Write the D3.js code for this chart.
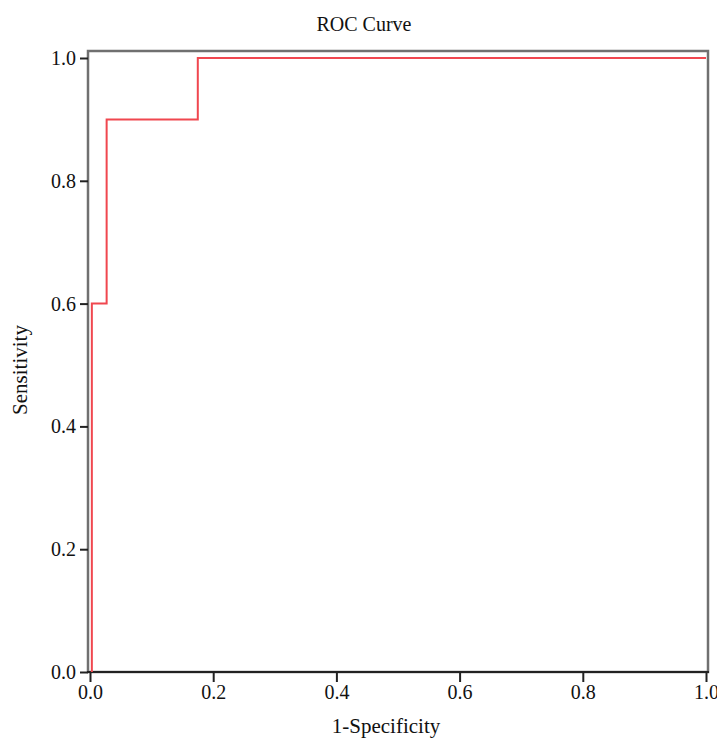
<!DOCTYPE html>
<html>
<head>
<meta charset="utf-8">
<title>ROC Curve</title>
<script src="https://cdn.jsdelivr.net/npm/d3@7"></script>
<style>
  body { margin: 0; background: #fff; }
  svg text { font-family: "Liberation Serif", "Times New Roman", serif; fill: #111; }
  .tick text { font-size: 20px; }
  .tick line { stroke: #222; stroke-width: 2; }
  .domain { display: none; }
</style>
</head>
<body>
<div id="chart"></div>
<script>
// ROC step points (1-specificity, sensitivity)
const fpr = [0.003, 0.003, 0.027, 0.027, 0.175, 0.175, 1.0]
const tpr = [0.0,   0.6,   0.6,   0.9,   0.9,   1.0,   1.0]
const tickVals = [0, 0.2, 0.4, 0.6, 0.8, 1.0]

const width = 717, height = 738
const serif = "Liberation Serif, Times New Roman, serif"
const svg = d3.select("#chart").append("svg")
    .attr("width", width)
    .attr("height", height)

const x = d3.scaleLinear().domain([0, 1]).range([90, 706])
const y = d3.scaleLinear().domain([0, 1]).range([672, 58])

// frame
svg.append("rect")
    .attr("x", 88).attr("y", 51)
    .attr("width", 708 - 88).attr("height", 672 - 51)
    .attr("fill", "none")
    .attr("stroke", "#707070")
    .attr("stroke-width", 2.5)

// x axis line
svg.append("line")
    .attr("x1", 87).attr("x2", 709)
    .attr("y1", 672).attr("y2", 672)
    .attr("stroke", "#222").attr("stroke-width", 2)

svg.append("g")
    .attr("transform", "translate(0,672)")
    .call(d3.axisBottom(x).tickValues(tickVals).tickFormat(d3.format(".1f")).tickSize(10).tickPadding(3))
    .attr("font-family", serif).attr("font-size", 20)

svg.append("g")
    .attr("transform", "translate(88,0)")
    .call(d3.axisLeft(y).tickValues(tickVals).tickFormat(d3.format(".1f")).tickSize(8).tickPadding(4))
    .attr("font-family", serif).attr("font-size", 20)

// curve
const pts = fpr.map((d, i) => [d, tpr[i]])
svg.append("path")
    .datum(pts)
    .attr("fill", "none")
    .attr("stroke", "#f0474f")
    .attr("stroke-width", 2)
    .attr("d", d3.line().x(d => x(d[0])).y(d => y(d[1])))

// titles
svg.append("text")
    .attr("x", 364).attr("y", 31)
    .attr("text-anchor", "middle")
    .style("font-size", "20px")
    .text("ROC Curve")

svg.append("text")
    .attr("x", 386).attr("y", 733)
    .attr("text-anchor", "middle")
    .style("font-size", "21px")
    .text("1-Specificity")

svg.append("text")
    .attr("transform", "translate(27,370) rotate(-90)")
    .attr("text-anchor", "middle")
    .style("font-size", "21px")
    .text("Sensitivity")
</script>
</body>
</html>
